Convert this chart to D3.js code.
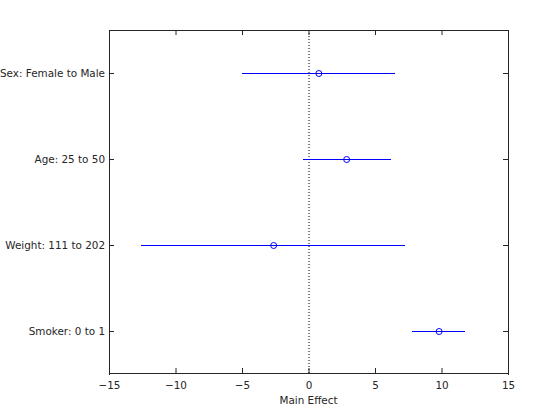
<!DOCTYPE html>
<html>
<head>
<meta charset="utf-8">
<script src="https://cdn.jsdelivr.net/npm/d3@7"></script>
<style>
  body { margin: 0; background: #fff; }
  text { font-family: "DejaVu Sans", sans-serif; font-size: 10.4px; fill: #262626; }
</style>
</head>
<body>
<script>
// effect estimates with lower / upper confidence bounds
var terms = ["Sex: Female to Male", "Age: 25 to 50", "Weight: 111 to 202", "Smoker: 0 to 1"];
var effects = [0.78, 2.87, -2.62, 9.82];
var lowerBounds = [-4.97, -0.4, -12.56, 7.76];
var upperBounds = [6.48, 6.22, 7.22, 11.8];
var xTicks = [-15, -10, -5, 0, 5, 10, 15];

var width = 560, height = 420;
var margin = {left: 109, right: 52, top: 30, bottom: 47};

var svg = d3.select("body").append("svg")
  .attr("width", width)
  .attr("height", height);

var x = d3.scaleLinear()
  .domain([-15, 15])
  .range([margin.left, width - margin.right]);

var y = d3.scaleBand()
  .domain(terms)
  .range([margin.top, height - margin.bottom + 1]);

var axisColor = "#262626";
var fontSize = 10.4;

// zero reference line
svg.append("line")
  .attr("x1", x(0) + 0.5).attr("x2", x(0) + 0.5)
  .attr("y1", margin.top).attr("y2", height - margin.bottom)
  .attr("stroke", "#000")
  .attr("stroke-width", 1)
  .attr("stroke-dasharray", "1,2");

// bottom axis
var xAxis = svg.append("g")
  .attr("transform", "translate(0," + (height - margin.bottom) + ")")
  .call(d3.axisBottom(x).tickValues(xTicks).tickSizeInner(-5).tickSizeOuter(0).tickPadding(9));
// top axis (ticks only)
var xAxisTop = svg.append("g")
  .attr("transform", "translate(0," + margin.top + ")")
  .call(d3.axisTop(x).tickValues(xTicks).tickSizeInner(-5).tickSizeOuter(0).tickFormat(""));
// left axis
var yAxis = svg.append("g")
  .attr("transform", "translate(" + margin.left + ",0.5)")
  .call(d3.axisLeft(y).tickSizeInner(-5).tickSizeOuter(0).tickPadding(4));
// right axis (ticks only)
var yAxisRight = svg.append("g")
  .attr("transform", "translate(" + (width - margin.right) + ",0.5)")
  .call(d3.axisRight(y).tickSizeInner(-5).tickSizeOuter(0).tickFormat(""));

[xAxis, xAxisTop, yAxis, yAxisRight].forEach(function(g) {
  g.select(".domain").attr("stroke", axisColor);
  g.selectAll(".tick line").attr("stroke", axisColor);
  g.selectAll("text").attr("font-family", "DejaVu Sans, sans-serif").attr("font-size", fontSize).attr("fill", axisColor);
});

// x axis label
svg.append("text")
  .attr("x", x(0))
  .attr("y", height - 16)
  .attr("text-anchor", "middle")
  .attr("font-size", 11.5)
  .text("Main Effect");

var rows = terms.map(function(t, i) {
  return {term: t, effect: effects[i], lo: lowerBounds[i], hi: upperBounds[i]};
});

var yc = function(d) { return Math.round(y(d.term) + y.bandwidth() / 2) + 0.5; };

svg.selectAll(".ci")
  .data(rows)
  .enter()
  .append("line")
  .attr("class", "ci")
  .attr("x1", function(d) { return x(d.lo); })
  .attr("x2", function(d) { return x(d.hi); })
  .attr("y1", yc)
  .attr("y2", yc)
  .attr("stroke", "#0000ff")
  .attr("stroke-width", 1)
  .attr("shape-rendering", "crispEdges");

svg.selectAll(".pt")
  .data(rows)
  .enter()
  .append("circle")
  .attr("class", "pt")
  .attr("cx", function(d) { return x(d.effect); })
  .attr("cy", yc)
  .attr("r", 3)
  .attr("fill", "none")
  .attr("stroke", "#0000ff")
  .attr("stroke-width", 1);
</script>
</body>
</html>
